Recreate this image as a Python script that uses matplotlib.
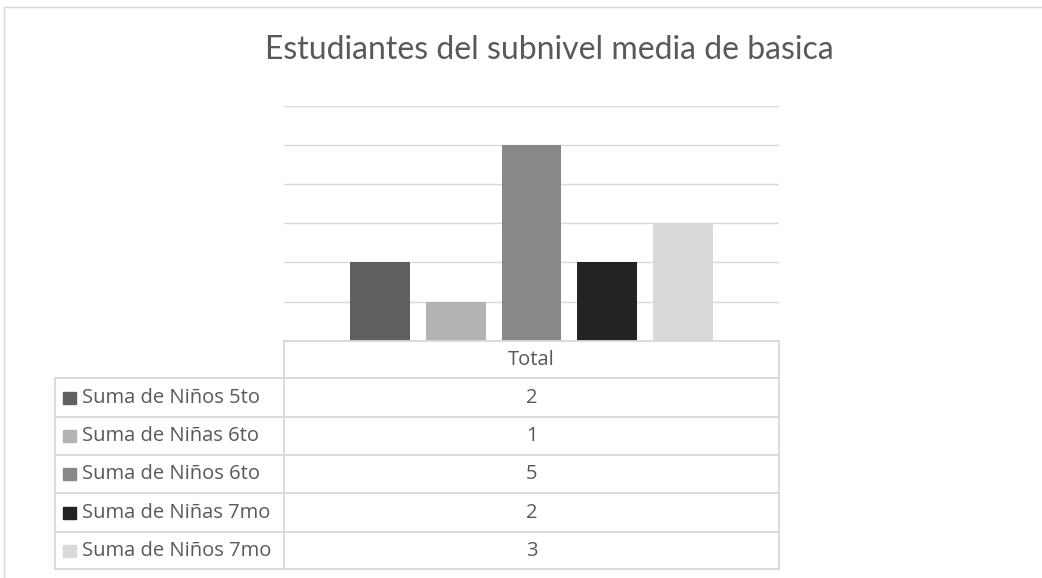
import matplotlib
matplotlib.use('Agg')
import matplotlib.pyplot as plt
from matplotlib.patches import Rectangle

plt.rcParams['font.family'] = ['Lato', 'DejaVu Sans']

title = 'Estudiantes del subnivel media de basica'
header = 'Total'
series = ['Suma de Niños 5to', 'Suma de Niñas 6to', 'Suma de Niños 6to',
          'Suma de Niñas 7mo', 'Suma de Niños 7mo']
values = [2, 1, 5, 2, 3]
colors = ['#606060', '#b3b3b3', '#888888', '#232323', '#d9d9d9']

W, H = 1042, 578
txt_col = '#595959'
line_col = '#d9d9d9'
tfont = ['Open Sans', 'DejaVu Sans']

fig = plt.figure(figsize=(W / 100, H / 100), dpi=100)

# plot area (pixel box: x 284..779, y 106..341)
px0, px1, py0, py1 = 284, 779, 105.7, 340.7
ax = fig.add_axes([px0 / W, 1 - py1 / H, (px1 - px0) / W, (py1 - py0) / H])
xs = list(range(len(values)))
ax.bar(xs, values, width=0.79, color=colors, zorder=3)
ax.set_xlim(-1.26, 5.26)
ax.set_ylim(0, 6)
for g in range(1, 7):
    ax.axhline(g, color=line_col, lw=1.0, zorder=1)
ax.set_xticks([])
ax.set_yticks([])
for s in ax.spines.values():
    s.set_visible(False)
ax.patch.set_alpha(0)

# overlay in pixel coords for frame, title and data table
ov = fig.add_axes([0, 0, 1, 1])
ov.set_xlim(0, W)
ov.set_ylim(H, 0)
ov.axis('off')
ov.patch.set_alpha(0)

# chart frame
ov.plot([4, W], [7, 7], color=line_col, lw=1.0)
ov.plot([4, 4], [7, H], color=line_col, lw=1.0)

ov.text(549, 50, title, ha='center', va='center', fontsize=23, color=txt_col)

# table
lx, cx, rx = 55, 284, 779
top = 341
row_tops = [378.3, 417.3, 455.3, 493.3, 531.7, 569.3]
tl = dict(color=line_col, lw=1.3)
ov.plot([cx, rx], [top, top], **tl)
for y in row_tops:
    ov.plot([lx, rx], [y, y], **tl)
ov.plot([cx, cx], [top, row_tops[-1]], **tl)
ov.plot([rx, rx], [top, row_tops[-1]], **tl)
ov.plot([lx, lx], [row_tops[0], row_tops[-1]], **tl)

fs = 14.5
mid = (cx + rx) / 2
ov.text(mid, (top + row_tops[0]) / 2, header, ha='center', va='center',
        fontsize=fs, color=txt_col, family=tfont)
for i, (name, v, c) in enumerate(zip(series, values, colors)):
    yc = (row_tops[i] + row_tops[i + 1]) / 2
    ov.add_patch(Rectangle((63, yc - 6), 13, 12, color=c))
    ov.text(82, yc, name, ha='left', va='center', fontsize=fs,
            color=txt_col, family=tfont)
    ov.text(mid, yc, str(v), ha='center', va='center', fontsize=fs,
            color=txt_col, family=tfont)

fig.savefig('out.png', dpi=100)
